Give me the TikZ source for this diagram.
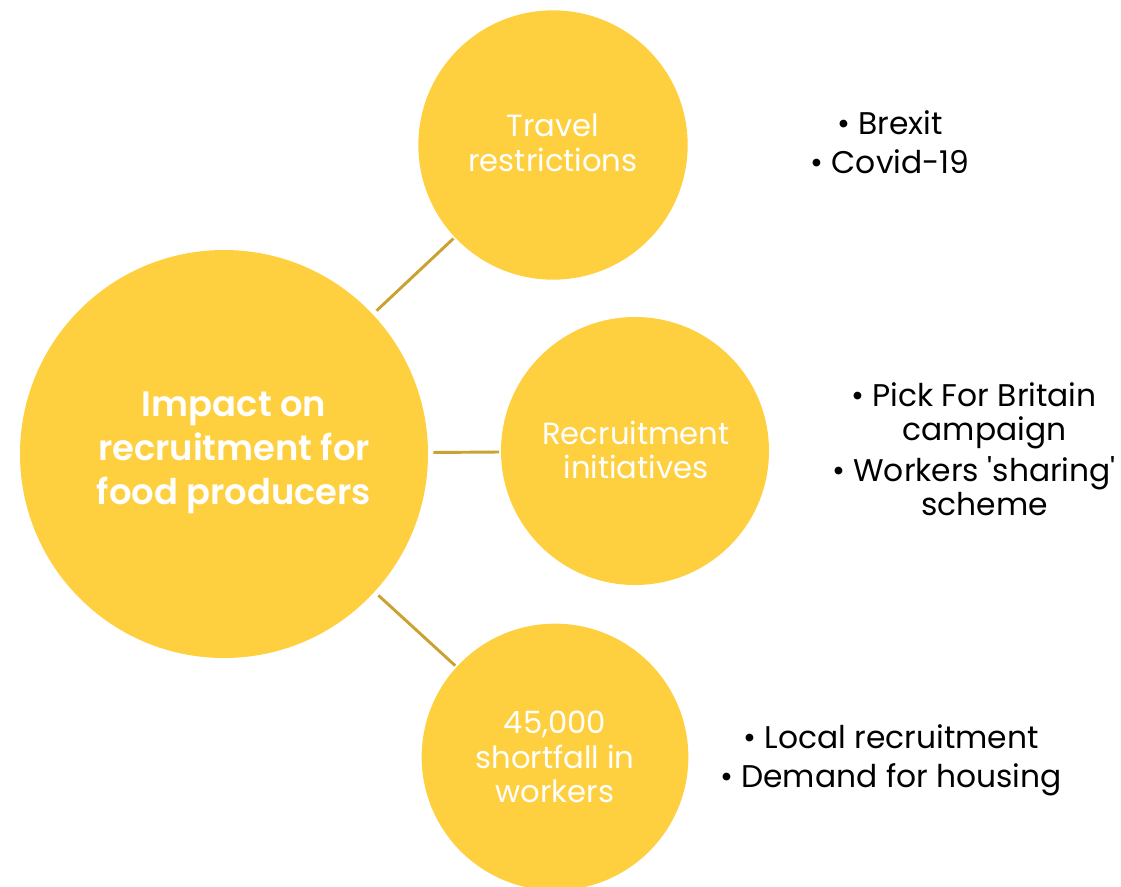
\documentclass[tikz,border=0pt]{standalone}
\usepackage{fontspec}
\setmainfont{Poppins}[Ligatures=TeXOff]
\newfontfamily\semib{Poppins SemiBold}
\definecolor{gold}{HTML}{FED040}
\definecolor{linegold}{HTML}{C9A232}
\begin{document}
\begin{tikzpicture}[x=0.75pt,y=-0.75pt,
  bubble/.style={circle,fill=gold,draw=none,inner sep=0pt,outer sep=0pt},
  conn/.style={draw=linegold,line width=2.2pt,shorten <=4pt,shorten >=1.5pt},
  intext/.style={text=white,align=center,font=\fontsize{23}{26}\selectfont},
  bigtext/.style={text=white,align=center,font=\fontsize{26.5}{33}\selectfont\semib},
  bullets/.style={text=black,align=center,font=\fontsize{23.5}{25.5}\selectfont}]
\useasboundingbox (0,0) rectangle (1121,886);
\node[bubble,minimum size=306pt] (big) at (224,454) {};
\node[bubble,minimum size=202pt] (s1) at (553,145) {};
\node[bubble,minimum size=201pt] (s2) at (635,451) {};
\node[bubble,minimum size=200pt] (s3) at (555,757) {};
\draw[conn] (big) -- (s1);
\draw[conn] (big) -- (s2);
\draw[conn] (big) -- (s3);
\node[bigtext] (tbig) at (234,453) {Impact on\\recruitment for\\food producers};
\node[intext] (t1) at (553,143) {Travel\\restrictions};
\node[intext] (t2) at (636,450) {Recruitment\\initiatives};
\node[intext] (t3) at (555,757) {45,000\\shortfall in\\workers};
\node[bullets,font=\fontsize{23.5}{29}\selectfont] (b1) at (890,142) {\textbullet{} Brexit\\\textbullet{} Covid-19};
\node[bullets] (b2a) at (974,416) {\textbullet{} Pick For Britain\\\hspace*{16pt}campaign};
\node[bullets] (b2b) at (974,486) {\textbullet{} Workers 'sharing'\\\hspace*{16pt}scheme};
\node[bullets,font=\fontsize{23.5}{29}\selectfont] (b3) at (891,760) {\textbullet{} Local recruitment\\\textbullet{} Demand for housing};
\end{tikzpicture}
\end{document}
